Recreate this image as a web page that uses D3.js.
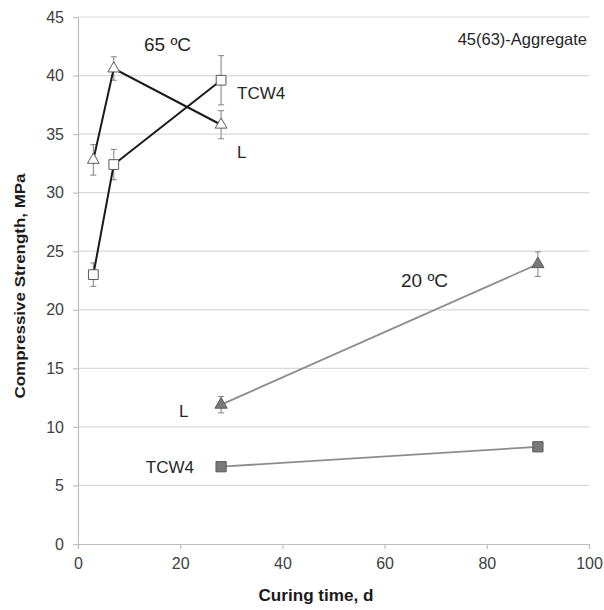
<!DOCTYPE html>
<html lang="en">
<head>
    <meta charset="UTF-8">
    <title>Compressive strength vs curing time</title>
    <script src="https://d3js.org/d3.v7.min.js"></script>
    <style>
        body { margin: 0; background: #fff; font-family: 'Liberation Sans', Arial, sans-serif; }
    </style>
</head>
<body>
<div id="chart"></div>
<script>
    // data
    var xTicks = [0, 20, 40, 60, 80, 100];
    var yTicks = [0, 5, 10, 15, 20, 25, 30, 35, 40, 45];

    // 65 ºC series (open markers)
    var hotDays = [3, 7, 28];
    var hotL = [32.8, 40.6, 35.8];
    var hotLErr = [1.3, 1.0, 1.2];
    var hotTCW4 = [23.0, 32.4, 39.6];
    var hotTCW4Err = [1.0, 1.3, 2.1];

    // 20 ºC series (filled markers)
    var coldDays = [28, 90];
    var coldL = [11.9, 23.9];
    var coldLErr = [0.7, 1.05];
    var coldTCW4 = [6.6, 8.3];

    var width = 604, height = 610;
    var margin = {top: 17, right: 15, bottom: 66, left: 78};

    var svg = d3.select("#chart").append("svg")
        .attr("width", width)
        .attr("height", height);

    var x = d3.scaleLinear().domain([0, 100]).range([margin.left, width - margin.right]);
    var y = d3.scaleLinear().domain([0, 45]).range([height - margin.bottom, margin.top]);

    // gridlines
    svg.append("g")
        .selectAll("line")
        .data(yTicks.filter(function(d) { return d > 0; }))
        .enter().append("line")
        .attr("x1", x(0)).attr("x2", x(100))
        .attr("y1", function(d) { return y(d); })
        .attr("y2", function(d) { return y(d); })
        .attr("stroke", "#d9d9d9")
        .attr("stroke-width", 1.2);

    // axes
    var xAxis = svg.append("g")
        .attr("transform", "translate(0," + y(0) + ")")
        .call(d3.axisBottom(x).tickValues(xTicks).tickSize(5).tickPadding(9));
    var yAxis = svg.append("g")
        .attr("transform", "translate(" + x(0) + ",0)")
        .call(d3.axisLeft(y).tickValues(yTicks).tickSize(5).tickPadding(9));
    [xAxis, yAxis].forEach(function(a) {
        a.select(".domain").attr("stroke", "#bfbfbf").attr("stroke-width", 1.2);
        a.selectAll(".tick line").attr("stroke", "#bfbfbf").attr("stroke-width", 1.2);
        a.selectAll(".tick text")
            .attr("fill", "#404040")
            .style("font-family", "'Liberation Sans', Arial, sans-serif")
            .style("font-size", "16px");
    });

    // axis titles
    svg.append("text")
        .attr("x", 316).attr("y", 601)
        .attr("text-anchor", "middle")
        .attr("textLength", 115)
        .attr("lengthAdjust", "spacingAndGlyphs")
        .style("font-size", "16.5px")
        .style("font-weight", "bold")
        .attr("fill", "#1a1a1a")
        .text("Curing time, d");
    svg.append("text")
        .attr("transform", "translate(25,286)rotate(-90)")
        .attr("text-anchor", "middle")
        .attr("textLength", 225)
        .attr("lengthAdjust", "spacingAndGlyphs")
        .style("font-size", "15.5px")
        .style("font-weight", "bold")
        .attr("fill", "#1a1a1a")
        .text("Compressive Strength, MPa");

    function errorBars(days, vals, errs) {
        var g = svg.append("g").attr("stroke", "#808080").attr("stroke-width", 1);
        days.forEach(function(d, i) {
            var cx = x(d), top = y(vals[i] + errs[i]), bot = y(vals[i] - errs[i]);
            g.append("line").attr("x1", cx).attr("x2", cx).attr("y1", top).attr("y2", bot);
            g.append("line").attr("x1", cx - 3).attr("x2", cx + 3).attr("y1", top).attr("y2", top);
            g.append("line").attr("x1", cx - 3).attr("x2", cx + 3).attr("y1", bot).attr("y2", bot);
        });
    }

    function series(days, vals, color, w) {
        var pts = days.map(function(d, i) { return [d, vals[i]]; });
        svg.append("path")
            .datum(pts)
            .attr("fill", "none")
            .attr("stroke", color)
            .attr("stroke-width", w)
            .attr("d", d3.line().x(function(p) { return x(p[0]); }).y(function(p) { return y(p[1]); }));
        return pts;
    }

    function markers(pts, shape, size, fill, stroke) {
        svg.append("g")
            .selectAll("path")
            .data(pts)
            .enter().append("path")
            .attr("transform", function(p) { return "translate(" + x(p[0]) + "," + y(p[1]) + ")"; })
            .attr("d", d3.symbol().type(shape).size(size))
            .attr("fill", fill)
            .attr("stroke", stroke)
            .attr("stroke-width", 1);
    }

    errorBars(hotDays, hotL, hotLErr);
    errorBars(hotDays, hotTCW4, hotTCW4Err);
    errorBars(coldDays, coldL, coldLErr);

    var p1 = series(hotDays, hotL, "#1a1a1a", 2);
    var p2 = series(hotDays, hotTCW4, "#1a1a1a", 2);
    var p3 = series(coldDays, coldL, "#8c8c8c", 1.8);
    var p4 = series(coldDays, coldTCW4, "#8c8c8c", 1.8);

    markers(p1, d3.symbolTriangle, 60, "#fff", "#595959");
    markers(p2, d3.symbolSquare, 95, "#fff", "#595959");
    markers(p3, d3.symbolTriangle, 65, "#7a7a7a", "#5a5a5a");
    markers(p4, d3.symbolSquare, 105, "#7a7a7a", "#5a5a5a");

    // annotations
    var notes = [
        {t: "65 ºC", x: 144, y: 51, size: 19, anchor: "start"},
        {t: "TCW4", x: 237, y: 99, size: 17, anchor: "start"},
        {t: "L", x: 237, y: 158, size: 17, anchor: "start"},
        {t: "20 ºC", x: 401, y: 287, size: 19, anchor: "start"},
        {t: "L", x: 179, y: 417, size: 17, anchor: "start"},
        {t: "TCW4", x: 194, y: 473, size: 17, anchor: "end"},
        {t: "45(63)-Aggregate", x: 587, y: 45, size: 16.5, anchor: "end"}
    ];
    svg.append("g")
        .selectAll("text")
        .data(notes)
        .enter().append("text")
        .attr("x", function(d) { return d.x; })
        .attr("y", function(d) { return d.y; })
        .attr("text-anchor", function(d) { return d.anchor; })
        .style("font-size", function(d) { return d.size + "px"; })
        .attr("fill", "#262626")
        .text(function(d) { return d.t; });
</script>
</body>
</html>
